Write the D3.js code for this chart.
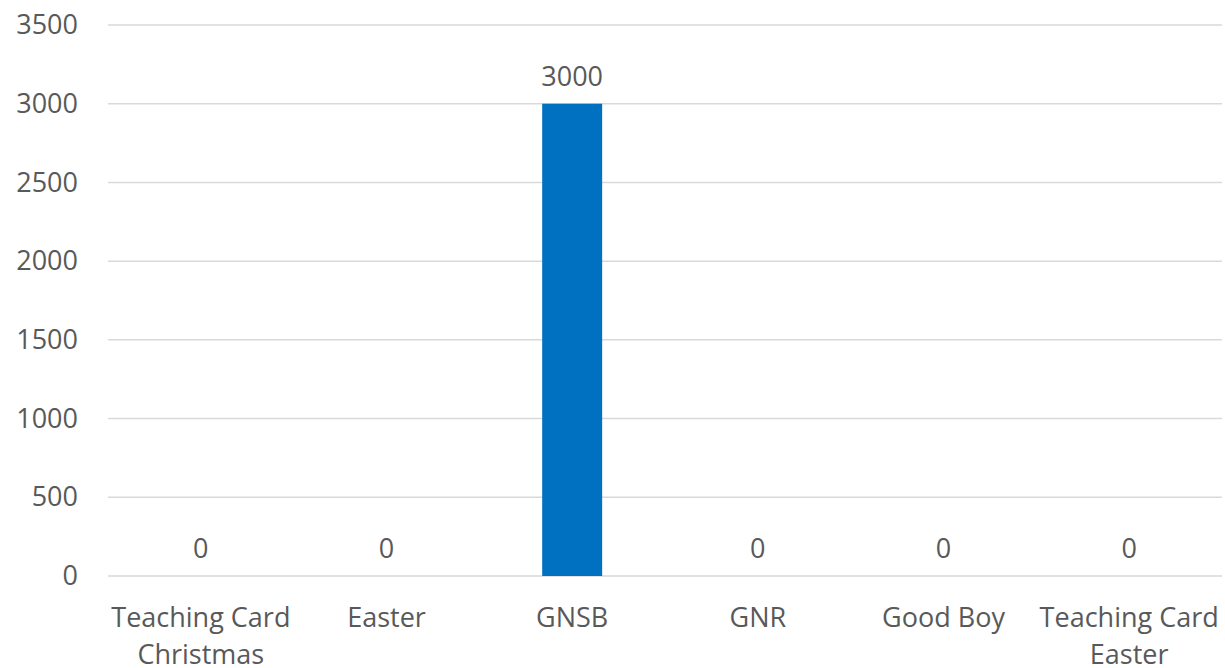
<!DOCTYPE html>
<html>
<head>
<meta charset="utf-8">
<script src="https://cdnjs.cloudflare.com/ajax/libs/d3/7.8.5/d3.min.js"></script>
<style>
  body { margin: 0; background: #fff; }
  text { font-family: "Open Sans", sans-serif; fill: #595959; }
</style>
</head>
<body>
<svg width="1225" height="668"></svg>
<script>
// data
var categories = ["Teaching Card\nChristmas", "Easter", "GNSB", "GNR", "Good Boy", "Teaching Card\nEaster"];
var values = [0, 0, 3000, 0, 0, 0];
var yTicks = [0, 500, 1000, 1500, 2000, 2500, 3000, 3500];

var svg = d3.select("svg"),
    margin = {top: 25, right: 3, bottom: 92, left: 108},
    width = +svg.attr("width") - margin.left - margin.right,
    height = +svg.attr("height") - margin.top - margin.bottom;

var g = svg.append("g").attr("transform", "translate(" + margin.left + "," + margin.top + ")");

var x = d3.scaleBand()
    .domain(categories)
    .range([0, width])
    .paddingInner(0.677)
    .paddingOuter(0.3385);

var y = d3.scaleLinear()
    .domain([0, 3500])
    .range([height, 0]);

// gridlines
g.append("g")
    .selectAll("line")
    .data(yTicks)
    .enter()
    .append("line")
    .attr("x1", 0)
    .attr("x2", width)
    .attr("y1", function (d) { return y(d); })
    .attr("y2", function (d) { return y(d); })
    .attr("stroke", "#d9d9d9")
    .attr("stroke-width", 1.5);

// y axis labels
var yAxis = g.append("g")
    .call(d3.axisLeft(y).tickValues(yTicks).tickFormat(d3.format("d")).tickSize(0).tickPadding(30));
yAxis.select(".domain").remove();
yAxis.selectAll("text")
    .style("font-size", "27px")
    .attr("fill", "#595959")
    .attr("font-family", "Open Sans, sans-serif");

// bars
g.selectAll("rect")
    .data(values)
    .enter()
    .append("rect")
    .attr("x", function (d, i) { return x(categories[i]); })
    .attr("y", function (d) { return y(d); })
    .attr("width", x.bandwidth())
    .attr("height", function (d) { return height - y(d); })
    .attr("fill", "#0070c0");

// value labels
g.selectAll(".val")
    .data(values)
    .enter()
    .append("text")
    .attr("class", "val")
    .attr("x", function (d, i) { return x(categories[i]) + x.bandwidth() / 2; })
    .attr("y", function (d) { return y(d) - 18; })
    .attr("text-anchor", "middle")
    .style("font-size", "27px")
    .text(function (d) { return d; });

// x labels (wrapped)
var xl = g.selectAll(".xl")
    .data(categories)
    .enter()
    .append("text")
    .attr("class", "xl")
    .attr("text-anchor", "middle")
    .attr("transform", function (d) { return "translate(" + (x(d) + x.bandwidth() / 2) + "," + (height + 51) + ")"; })
    .style("font-size", "27px");
xl.selectAll("tspan")
    .data(function (d) { return d.split("\n"); })
    .enter()
    .append("tspan")
    .attr("x", 0)
    .attr("dy", function (d, i) { return i === 0 ? 0 : 37; })
    .text(function (d) { return d; });
</script>
</body>
</html>
